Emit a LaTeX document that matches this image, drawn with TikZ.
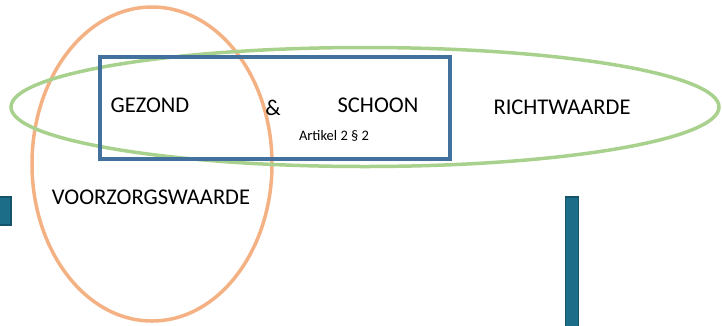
\documentclass[tikz,border=0pt]{standalone}
\usepackage{fontspec}
\setmainfont{Carlito}
\usetikzlibrary{shapes.geometric}
\definecolor{zorgoranje}{HTML}{F4B183}
\definecolor{richtgroen}{HTML}{A9D18E}
\definecolor{kaderblauw}{HTML}{41719C}
\definecolor{balkteal}{HTML}{1B6D88}
\definecolor{balkrand}{HTML}{15536A}

\begin{document}
\begin{tikzpicture}[
  x=1pt, y=-1pt,
  zone/.style={draw, ellipse, line width=3.5pt, inner sep=0pt},
  kader/.style={draw=kaderblauw, line width=4pt, minimum width=350pt, minimum height=102pt},
  lbl/.style={font=\fontsize{22.5}{26}\selectfont, inner sep=0pt},
  klein/.style={font=\fontsize{14.5}{17}\selectfont, inner sep=0pt},
  balk/.style={draw=balkrand, fill=balkteal, line width=1.5pt, inner sep=0pt}
]
\useasboundingbox (0,0) rectangle (722,325);
% zones
\node[zone, draw=zorgoranje, minimum width=240pt, minimum height=314pt] (voorzorg) at (152,164) {};
\node[zone, draw=richtgroen, minimum width=708pt, minimum height=119pt] (richt) at (365,107) {};
\node[kader] (norm) at (275,108) {};
% labels
\node[lbl] (gezond) at (150,105) {GEZOND};
\node[lbl] (en) at (273,108) {\&};
\node[lbl] (schoon) at (378,105) {SCHOON};
\node[klein] (artikel) at (334,136) {Artikel 2 § 2};
\node[lbl] (richtwaarde) at (562,107) {RICHTWAARDE};
\node[lbl] (voorzorgswaarde) at (151,197) {VOORZORGSWAARDE};
% balken
\node[balk, minimum width=12pt, minimum height=28pt] (balklinks) at (5,211) {};
\node[balk, minimum width=13pt, minimum height=132pt] (balkrechts) at (572,263) {};
\end{tikzpicture}
\end{document}
